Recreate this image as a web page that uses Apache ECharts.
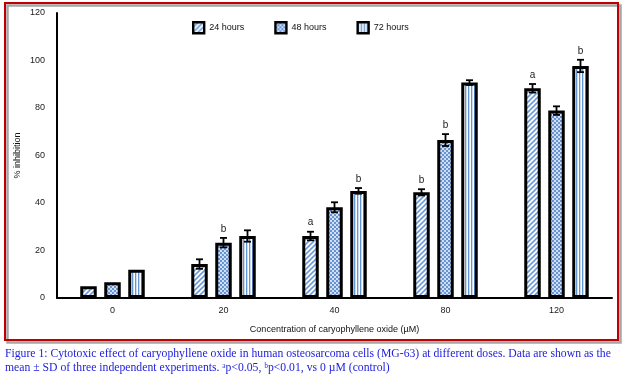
<!DOCTYPE html>
<html><head><meta charset="utf-8">
<script src="https://cdn.jsdelivr.net/npm/echarts@6/dist/echarts.min.js"></script>
<style>html,body{margin:0;padding:0;background:#fff;}#c{width:624px;height:382px;}</style>
</head><body><div id="c"></div>
<script>
// ---- data ----
const categories = ['0', '20', '40', '80', '120'];
const seriesNames = ['24 hours', '48 hours', '72 hours'];
const values24 = [5.0, 14.3, 26.1, 44.5, 88.3];
const values48 = [6.6, 23.3, 38.2, 66.5, 78.9];
const values72 = [11.9, 26.1, 45.1, 90.7, 97.7];
const err24 = [0, 2.0, 1.8, 1.3, 1.8];
const err48 = [0, 2.0, 2.1, 2.5, 1.8];
const err72 = [0, 2.4, 1.2, 1.0, 2.6];
const sig24 = ['', '', 'a', 'b', 'a'];
const sig48 = ['', 'b', '', 'b', ''];
const sig72 = ['', '', 'b', '', 'b'];
const yTicks = [0, 20, 40, 60, 80, 100, 120];
const yAxisName = '% inhibition';
const xAxisName = 'Concentration of caryophyllene oxide (\u00b5M)';
const captionLine1 = 'Figure 1: Cytotoxic effect of caryophyllene oxide in human osteosarcoma cells (MG-63) at different doses. Data are shown as the';
const captionLine2 = 'mean \u00b1 SD of three independent experiments. \u1d43p<0.05, \u1d47p<0.01, vs 0 \u00b5M (control)';

// ---- patterns ----
function makeCanvas(w, h, draw) {
  const c = document.createElement('canvas'); c.width = w; c.height = h;
  const g = c.getContext('2d'); draw(g, w, h); return c;
}
const patDiag = makeCanvas(5, 5, (g, w, h) => {
  g.fillStyle = '#ffffff'; g.fillRect(0, 0, w, h);
  g.strokeStyle = '#6f9bd8'; g.lineWidth = 1.6;
  for (let k = -1; k <= 1; k++) {
    g.beginPath(); g.moveTo(k * 5 - 1, 6); g.lineTo(k * 5 + 6, -1); g.stroke();
  }
});
const patCheck = makeCanvas(4, 4, (g, w, h) => {
  g.fillStyle = '#cfe0f5'; g.fillRect(0, 0, w, h);
  g.fillStyle = '#6893d3';
  g.fillRect(0, 0, 2, 2); g.fillRect(2, 2, 2, 2);
});
const patVert = makeCanvas(3, 3, (g, w, h) => {
  g.fillStyle = '#ffffff'; g.fillRect(0, 0, w, h);
  g.fillStyle = '#6596d4'; g.fillRect(0, 0, 1, h);
  g.fillStyle = '#c9dcf3'; g.fillRect(1, 0, 1, h);
});
const patterns = [patDiag, patCheck, patVert];

const BAR_W = 16.5, BAR_GAP = 7.5;
const FONT = 'Liberation Sans, Arial, sans-serif';

function barSeries(name, vals, k) {
  return {
    type: 'bar', name: name, data: vals, barWidth: BAR_W, barGap: (BAR_GAP / BAR_W * 100) + '%',
    itemStyle: { color: { image: patterns[k], repeat: 'repeat' }, borderColor: '#000', borderWidth: 3 },
    z: 2
  };
}
function errSeries(name, vals, errs, sigs, slot) {
  return {
    type: 'custom', name: name + ' error', silent: true, z: 5,
    data: vals.map((v, i) => [i, v, errs[i]]),
    encode: { x: 0, y: 1 },
    renderItem: function (params, api) {
      const i = api.value(0), v = api.value(1), e = api.value(2);
      const sig = sigs[params.dataIndex];
      const c = api.coord([i, v]);
      const x = c[0] + slot * (BAR_W + BAR_GAP);
      const hi = api.coord([i, v + e])[1];
      const lo = api.coord([i, v - e])[1];
      const ch = [];
      const ls = { stroke: '#000', lineWidth: 1.8 };
      if (e > 0) {
        ch.push({ type: 'line', shape: { x1: x, y1: hi, x2: x, y2: lo }, style: ls });
        ch.push({ type: 'line', shape: { x1: x - 3.5, y1: hi, x2: x + 3.5, y2: hi }, style: ls });
        ch.push({ type: 'line', shape: { x1: x - 3.5, y1: lo, x2: x + 3.5, y2: lo }, style: ls });
      }
      if (sig) {
        ch.push({ type: 'text', style: { text: sig, x: x, y: hi - 4, align: 'center', verticalAlign: 'bottom',
          font: '10px ' + FONT, fill: '#222' } });
      }
      return { type: 'group', children: ch };
    }
  };
}

const chart = echarts.init(document.getElementById('c'), null, { renderer: 'canvas' });
chart.setOption({
  animation: false,
  backgroundColor: '#ffffff',
  textStyle: { fontFamily: FONT },
  grid: { left: 57, right: 12, top: 13, bottom: 84 },
  legend: {
    data: seriesNames, left: 187, top: 16, icon: 'rect', itemWidth: 11, itemHeight: 11, itemGap: 30,
    textStyle: { fontSize: 9, color: '#111', fontFamily: FONT },
    itemStyle: { borderWidth: 2.4, borderColor: '#000' }
  },
  xAxis: {
    type: 'category', data: categories,
    axisLine: { lineStyle: { color: '#000', width: 2 } },
    axisTick: { show: false },
    axisLabel: { fontSize: 9, color: '#1a1a1a', margin: 8 },
    name: xAxisName, nameLocation: 'middle', nameGap: 27,
    nameTextStyle: { fontSize: 9, color: '#111' }
  },
  yAxis: {
    type: 'value', min: yTicks[0], max: yTicks[yTicks.length - 1], interval: yTicks[1] - yTicks[0],
    axisLine: { show: true, lineStyle: { color: '#000', width: 2 } },
    axisTick: { show: false },
    splitLine: { show: false },
    axisLabel: { fontSize: 9, color: '#1a1a1a', margin: 12 },
    name: yAxisName, nameLocation: 'middle', nameGap: 35, nameRotate: 90, nameMoveOverlap: false,
    nameTextStyle: { fontSize: 9, color: '#111' }
  },
  series: [
    barSeries(seriesNames[0], values24, 0),
    barSeries(seriesNames[1], values48, 1),
    barSeries(seriesNames[2], values72, 2),
    errSeries(seriesNames[0], values24, err24, sig24, -1),
    errSeries(seriesNames[1], values48, err48, sig48, 0),
    errSeries(seriesNames[2], values72, err72, sig72, 1)
  ],
  graphic: [
    { type: 'rect', z: -1, shape: { x: 7.5, y: 5.5, width: 613, height: 337 }, style: { fill: 'none', stroke: '#a6a6a6', lineWidth: 2.5 } },
    { type: 'rect', z: 0, shape: { x: 5, y: 3, width: 613, height: 337 }, style: { fill: 'none', stroke: '#c00000', lineWidth: 2 } },
    { type: 'text', left: 5, top: 348, style: { text: captionLine1, font: '11.7px Liberation Serif, Times New Roman, serif', fill: '#2222dd' } },
    { type: 'text', left: 5, top: 362, style: { text: captionLine2, font: '11.7px Liberation Serif, Times New Roman, serif', fill: '#2222dd' } }
  ]
});
</script>
</body></html>
